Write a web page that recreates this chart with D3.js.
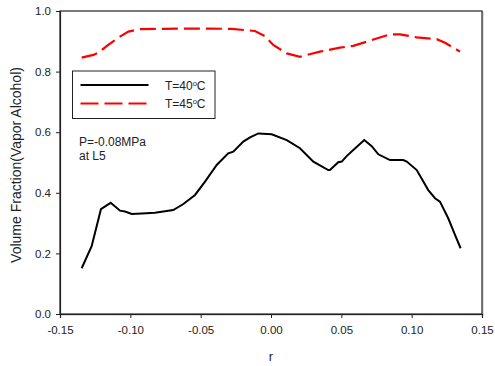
<!DOCTYPE html>
<head>
    <meta charset="utf-8">
    <title>Volume Fraction</title>
    <script src="https://d3js.org/d3.v7.min.js"></script>
    <style>
        body { margin: 0; background: #fff; }
        text { font-family: "Liberation Sans", Arial, sans-serif; fill: #222; }
    </style>
</head>
<body>
<svg width="495" height="366"></svg>
<script>
    // data
    var r40 = [-0.1346, -0.1275, -0.1209, -0.1140, -0.1073, -0.1038, -0.0990, -0.0919, -0.0825, -0.0695,
               -0.0623, -0.0540, -0.0469, -0.0386, -0.0304, -0.0268, -0.0197, -0.0149, -0.0090, 0.0005,
               0.0112, 0.0206, 0.0301, 0.0407, 0.0419, 0.0478, 0.0503, 0.0538, 0.0585, 0.0663,
               0.0716, 0.0763, 0.0846, 0.0940, 0.0965, 0.1036, 0.1118, 0.1166, 0.1201, 0.1260,
               0.1308, 0.1348];
    var v40 = [0.151, 0.224, 0.346, 0.367, 0.341, 0.338, 0.330, 0.332, 0.334, 0.343,
               0.363, 0.393, 0.437, 0.492, 0.530, 0.536, 0.569, 0.583, 0.596, 0.593,
               0.574, 0.547, 0.503, 0.475, 0.475, 0.501, 0.503, 0.521, 0.541, 0.574,
               0.554, 0.527, 0.508, 0.508, 0.503, 0.475, 0.409, 0.382, 0.371, 0.316,
               0.261, 0.217];

    var r45 = [-0.1346, -0.1263, -0.1228, -0.1157, -0.1086, -0.1014, -0.0931, -0.0801, -0.0611, -0.0446,
               -0.0279, -0.0114, -0.0043, 0.0016, 0.0112, 0.0206, 0.0348, 0.0490, 0.0585, 0.0703,
               0.0846, 0.0917, 0.1036, 0.1178, 0.1237, 0.1344];
    var v45 = [0.846, 0.855, 0.862, 0.888, 0.912, 0.932, 0.940, 0.941, 0.942, 0.942,
               0.941, 0.934, 0.917, 0.888, 0.860, 0.849, 0.866, 0.879, 0.885, 0.902,
               0.923, 0.923, 0.913, 0.907, 0.895, 0.866];

    var xTicks = [-0.15, -0.10, -0.05, 0.00, 0.05, 0.10, 0.15];
    var yTicks = [0.0, 0.2, 0.4, 0.6, 0.8, 1.0];

    var svg = d3.select("svg");
    var mLeft = 60, mTop = 11, mRight = 482, mBottom = 314;

    var x = d3.scaleLinear().domain([-0.15, 0.15]).range([mLeft, mRight]);
    var y = d3.scaleLinear().domain([0, 1]).range([mBottom, mTop]);

    // frame
    svg.append("rect")
        .attr("x", mLeft + 1).attr("y", mTop + 1)
        .attr("width", mRight - mLeft).attr("height", mBottom - mTop)
        .attr("fill", "none").attr("stroke", "#bbb").attr("stroke-width", 1);
    svg.append("rect")
        .attr("x", mLeft).attr("y", mTop)
        .attr("width", mRight - mLeft).attr("height", mBottom - mTop)
        .attr("fill", "#fff").attr("stroke", "#222").attr("stroke-width", 1.2);

    var xAxis = svg.append("g")
        .attr("transform", "translate(0," + mBottom + ")")
        .call(d3.axisBottom(x).tickValues(xTicks).tickSize(4).tickPadding(8)
            .tickFormat(function(d) { return d.toFixed(2); }));
    var yAxis = svg.append("g")
        .attr("transform", "translate(" + mLeft + ",0)")
        .call(d3.axisLeft(y).tickValues(yTicks).tickSize(4).tickPadding(5)
            .tickFormat(function(d) { return d.toFixed(1); }));

    [xAxis, yAxis].forEach(function(a) {
        a.select(".domain").attr("stroke", "#222").attr("stroke-width", 1.2);
        a.selectAll(".tick line").attr("stroke", "#222");
        a.selectAll(".tick text")
            .attr("font-size", "11.5px")
            .attr("font-family", "'Liberation Sans', Arial, sans-serif")
            .attr("fill", "#222");
    });

    var line = d3.line()
        .x(function(d) { return x(d[0]); })
        .y(function(d) { return y(d[1]); });

    svg.append("path")
        .datum(d3.zip(r45, v45))
        .attr("fill", "none")
        .attr("stroke", "#ff0000")
        .attr("stroke-width", 2.2)
        .attr("stroke-dasharray", "16,6")
        .attr("d", line);

    svg.append("path")
        .datum(d3.zip(r40, v40))
        .attr("fill", "none")
        .attr("stroke", "#000")
        .attr("stroke-width", 2)
        .attr("d", line);

    // legend
    var lg = svg.append("g");
    lg.append("rect")
        .attr("x", 72.5).attr("y", 71)
        .attr("width", 142.5).attr("height", 47.5)
        .attr("fill", "#fff").attr("stroke", "#222").attr("stroke-width", 1);
    lg.append("line")
        .attr("x1", 80.5).attr("x2", 148.5).attr("y1", 85).attr("y2", 85)
        .attr("stroke", "#000").attr("stroke-width", 2);
    lg.append("line")
        .attr("x1", 80.5).attr("x2", 148.5).attr("y1", 103.5).attr("y2", 103.5)
        .attr("stroke", "#ff0000").attr("stroke-width", 2.2)
        .attr("stroke-dasharray", "18,6");

    var labels = [["T=40", 90], ["T=45", 108]];
    labels.forEach(function(l) {
        var t = lg.append("text")
            .attr("x", 165).attr("y", l[1])
            .attr("font-size", "12px");
        t.append("tspan").text(l[0]);
        t.append("tspan").attr("font-size", "7.5px").attr("dy", -4.5).text("o");
        t.append("tspan").attr("dy", 4.5).text("C");
    });

    svg.append("text")
        .attr("x", 79).attr("y", 146)
        .attr("font-size", "12px")
        .text("P=-0.08MPa");
    svg.append("text")
        .attr("x", 79).attr("y", 160)
        .attr("font-size", "12px")
        .text("at L5");

    // axis titles
    svg.append("text")
        .attr("transform", "translate(21,165) rotate(-90)")
        .attr("text-anchor", "middle")
        .attr("font-size", "14px")
        .text("Volume Fraction(Vapor Alcohol)");
    svg.append("text")
        .attr("x", x(0)).attr("y", 361)
        .attr("text-anchor", "middle")
        .attr("font-size", "13px")
        .text("r");
</script>
</body>
